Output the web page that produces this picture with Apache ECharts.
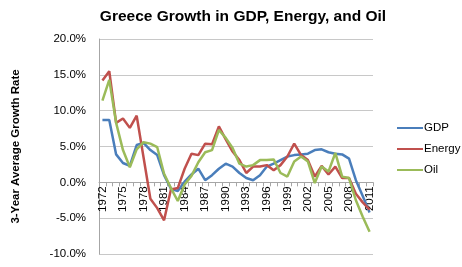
<!DOCTYPE html>
<html>
<head>
<meta charset="utf-8">
<script src="https://cdn.jsdelivr.net/npm/echarts@6/dist/echarts.min.js"></script>
<style>
  html, body { margin: 0; padding: 0; background: #fff; }
  #chart { width: 462px; height: 267px; }
</style>
</head>
<body>
<div id="chart"></div>
<script>
// years 1972 - 2011
const years = []
for (let y = 1972; y <= 2011; y++) years.push(String(y))

// 3-year average growth rates (%)
const gdp = [8.7, 8.7, 3.9, 2.7, 2.3, 5.2, 5.5, 4.5, 3.8, 1.0,
  -0.9, -1.2, 0.1, 1.1, 1.9, 0.3, 1.0, 1.9, 2.6, 2.2,
  1.3, 0.6, 0.3, 1.0, 2.2, 2.6, 3.1, 3.6, 3.8, 3.9,
  4.0, 4.5, 4.6, 4.2, 4.0, 3.9, 3.3, 0.3, -1.9, -4.2]
const energy = [14.2, 15.5, 8.3, 8.9, 7.6, 9.3, 3.5, -2.3, -3.6, -5.3,
  -1.0, -0.8, 1.9, 4.0, 3.8, 5.4, 5.3, 7.8, 6.0, 4.3,
  3.1, 1.3, 2.2, 2.2, 2.4, 1.7, 2.4, 3.6, 5.4, 3.8,
  3.1, 0.8, 2.3, 1.1, 2.2, 0.6, 0.6, -1.6, -2.8, -3.8]
const oil = [11.4, 14.3, 8.3, 4.5, 2.1, 4.6, 5.6, 5.4, 4.9, 1.2,
  -0.8, -2.6, -0.3, 0.9, 2.8, 4.2, 4.5, 7.3, 6.2, 4.8,
  2.6, 2.2, 2.4, 3.1, 3.1, 3.2, 1.3, 0.8, 2.9, 3.6,
  2.9, -0.1, 2.2, 1.5, 4.1, 0.8, 0.6, -2.5, -4.8, -6.9]

const yTicks = { min: -10, max: 20, interval: 5 }

const font = 'Liberation Sans'
const gridTop = 39
const gridBottom = 13
const plotH = 267 - gridTop - gridBottom
// put the category axis (with its labels) on the 0% line
const zeroOffset = -plotH * (0 - yTicks.min) / (yTicks.max - yTicks.min)

const chart = echarts.init(document.getElementById('chart'))
chart.setOption({
  animation: false,
  title: {
    text: 'Greece Growth in GDP, Energy, and Oil',
    left: 238,
    top: 4,
    textAlign: 'center',
    textStyle: { fontFamily: font, fontSize: 15.5, fontWeight: 'bold', color: '#000' }
  },
  legend: {
    orient: 'vertical',
    left: 392,
    top: 117,
    itemGap: 9,
    itemWidth: 26,
    itemHeight: 14,
    icon: 'path://M0,6H26V8H0Z',
    textStyle: { fontFamily: font, fontSize: 11.5, color: '#000', padding: [0, 0, 0, -4] },
    data: ['GDP', 'Energy', 'Oil']
  },
  grid: { left: 99, right: 89, top: gridTop, bottom: gridBottom },
  xAxis: {
    type: 'category',
    data: years,
    boundaryGap: true,
    position: 'bottom',
    offset: zeroOffset,
    axisLine: { onZero: false, lineStyle: { color: '#a6a6a6', width: 1 } },
    axisTick: { show: true, interval: 0, length: 4, lineStyle: { color: '#a6a6a6' } },
    axisLabel: { interval: 2, rotate: 90, fontFamily: font, fontSize: 11.5, color: '#000', margin: 4 },
    splitLine: { show: false }
  },
  yAxis: {
    type: 'value',
    min: yTicks.min,
    max: yTicks.max,
    interval: yTicks.interval,
    name: '3-Year Average Growth Rate',
    nameLocation: 'middle',
    nameGap: 77,
    nameTextStyle: { fontFamily: font, fontSize: 11.5, fontWeight: 'bold', color: '#000' },
    axisLine: { show: true, lineStyle: { color: '#a6a6a6', width: 1 } },
    axisTick: { show: false },
    axisLabel: {
      fontFamily: font, fontSize: 11.5, color: '#000', margin: 13,
      formatter: v => v.toFixed(1) + '%'
    },
    splitLine: { lineStyle: { color: '#c8c8c8', width: 1 } }
  },
  series: [
    {
      name: 'GDP',
      type: 'line',
      data: gdp,
      symbol: 'none',
      lineStyle: { width: 2.5, color: '#4a7ebb' },
      itemStyle: { color: '#4a7ebb' }
    },
    {
      name: 'Energy',
      type: 'line',
      data: energy,
      symbol: 'none',
      lineStyle: { width: 2.5, color: '#c0504d' },
      itemStyle: { color: '#c0504d' }
    },
    {
      name: 'Oil',
      type: 'line',
      data: oil,
      symbol: 'none',
      lineStyle: { width: 2.5, color: '#9bbb59' },
      itemStyle: { color: '#9bbb59' }
    }
  ]
})
</script>
</body>
</html>
